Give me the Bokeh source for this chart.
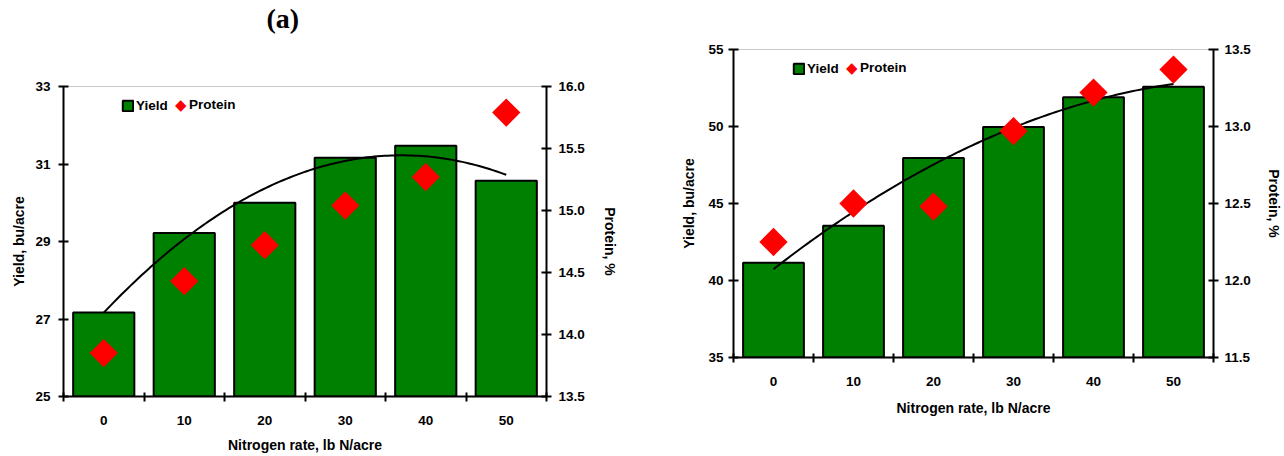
import numpy as np
from bokeh.plotting import figure
from bokeh.layouts import row
from bokeh.models import (Range1d, LinearAxis, FixedTicker, PrintfTickFormatter,
                          Legend, LegendItem, Title)
from bokeh.embed import file_html
from bokeh.resources import INLINE

# ---- data ----
rates = [0, 10, 20, 30, 40, 50]
rate_labels = ["0", "10", "20", "30", "40", "50"]

yield_a = [27.17, 29.22, 30.0, 31.16, 31.47, 30.57]
protein_a = [13.85, 14.43, 14.72, 15.04, 15.27, 15.79]
yield_ticks_a = [25, 27, 29, 31, 33]
protein_ticks_a = [13.5, 14.0, 14.5, 15.0, 15.5, 16.0]

yield_b = [41.15, 43.55, 47.95, 49.97, 51.9, 52.58]
protein_b = [12.25, 12.50, 12.48, 12.97, 13.22, 13.37]
yield_ticks_b = [35, 40, 45, 50, 55]
protein_ticks_b = [11.5, 12.0, 12.5, 13.0, 13.5]

FONT = "Liberation Sans"
GREEN = "#008000"
RED = "#ff0000"


def mk_legend(items, xy, **kw):
    base = dict(location=xy, orientation="horizontal", padding=0, margin=0,
                spacing=0, border_line_color=None, background_fill_alpha=0,
                label_text_font=FONT, label_text_font_style="bold",
                label_text_font_size="13.5px", label_text_color="black")
    base.update(kw)
    return Legend(items=items, **base)


def make_chart(yields, proteins, yticks, pticks, frame, borders,
               ystand, pstand, ylab_stand, plab_stand, xlab_stand, leg):
    fw, fh = frame
    bl, br, bt, bb = borders
    step = rates[1] - rates[0]
    p = figure(frame_width=fw, frame_height=fh, output_backend="svg",
               toolbar_location=None,
               x_range=Range1d(rates[0] - step / 2, rates[-1] + step / 2),
               y_range=Range1d(yticks[0], yticks[-1]),
               min_border_left=bl, min_border_right=br,
               min_border_top=bt, min_border_bottom=bb,
               x_axis_label="Nitrogen rate, lb N/acre",
               y_axis_label="Yield, bu/acre")
    try:
        p.frame_align = False
    except Exception:
        pass
    p.extra_y_ranges = {"protein": Range1d(pticks[0], pticks[-1])}
    p.grid.visible = False
    p.outline_line_color = "#c8c8c8"
    p.outline_line_width = 1
    p.background_fill_color = "white"
    p.border_fill_color = "white"

    bars = p.vbar(x=rates, top=yields, bottom=yticks[0], width=step * 0.76,
                  fill_color=GREEN, line_color="black", line_width=2)

    coef = np.polyfit(rates, yields, 2)
    xs = np.linspace(rates[0], rates[-1], 120)
    p.line(xs, np.polyval(coef, xs), line_color="black", line_width=2)

    pts = p.scatter(x=rates, y=proteins, y_range_name="protein", marker="square",
                    angle=np.pi / 4, size=20, fill_color=RED, line_color=None)

    # x axis
    xa = p.xaxis[0]
    xa.ticker = FixedTicker(ticks=rates,
                            minor_ticks=[r - step / 2 for r in rates] + [rates[-1] + step / 2])
    xa.major_label_overrides = {r: l for r, l in zip(rates, rate_labels)}
    xa.major_tick_in = 0
    xa.major_tick_out = 0
    xa.minor_tick_in = 4
    xa.minor_tick_out = 5
    xa.minor_tick_line_width = 2
    xa.minor_tick_line_color = "black"
    xa.major_label_standoff = 14
    xa.axis_label_standoff = xlab_stand

    # left y axis
    ya = p.yaxis[0]
    ya.ticker = FixedTicker(ticks=yticks)
    ya.major_label_standoff = ystand
    ya.axis_label_standoff = ylab_stand

    # right y axis
    ra = LinearAxis(y_range_name="protein", axis_label="Protein, %",
                    ticker=FixedTicker(ticks=pticks),
                    formatter=PrintfTickFormatter(format="%.1f"))
    ra.major_label_standoff = pstand
    ra.axis_label_standoff = plab_stand
    p.add_layout(ra, "right")

    for ax in [xa, ya, ra]:
        ax.axis_line_width = 2
        ax.axis_line_color = "black"
        ax.major_label_text_font = FONT
        ax.major_label_text_font_style = "bold"
        ax.major_label_text_font_size = "13.5px"
        ax.major_label_text_color = "black"
        ax.axis_label_text_font = FONT
        ax.axis_label_text_font_style = "bold"
        ax.axis_label_text_font_size = "14px"
        ax.axis_label_text_color = "black"
    for ax in [ya, ra]:
        ax.major_tick_in = 5
        ax.major_tick_out = 5
        ax.major_tick_line_width = 2
        ax.major_tick_line_color = "black"
        ax.minor_tick_line_color = None

    (yx, yy), (dx, dy), (px, py) = leg
    # "Yield" legend entry (green box)
    p.add_layout(mk_legend([LegendItem(label="Yield", renderers=[bars])], (yx, yy),
                           glyph_width=13, glyph_height=13, label_height=13,
                           label_standoff=2), "center")
    # red diamond symbol of the "Protein" legend entry
    p.add_layout(mk_legend([LegendItem(label="\u25c6", renderers=[pts])], (dx, dy),
                           glyph_width=1, glyph_height=1, label_height=20,
                           label_standoff=0, label_text_color=RED,
                           label_text_font="DejaVu Sans",
                           label_text_font_style="normal",
                           label_text_font_size="15px"), "center")
    # "Protein" legend label
    p.add_layout(mk_legend([LegendItem(label="Protein", renderers=[pts])], (px, py),
                           glyph_width=1, glyph_height=1, label_height=20,
                           label_standoff=0), "center")
    return p


p1 = make_chart(yield_a, protein_a, yield_ticks_a, protein_ticks_a,
                frame=(483, 310), borders=(63, 94, 86, 56),
                ystand=8, pstand=7, ylab_stand=5, plab_stand=14, xlab_stand=9,
                leg=((58, 283), (111, 281), (125, 282)))
p1.title = Title(text="(a)\n ", align="left", offset=203, standoff=0,
                 vertical_align="top", text_line_height=1.66,
                 text_font="Liberation Serif", text_font_style="bold",
                 text_font_size="28px", text_color="black")

p2 = make_chart(yield_b, protein_b, yield_ticks_b, protein_ticks_b,
                frame=(480, 308), borders=(93, 65, 49, 95),
                ystand=5, pstand=6, ylab_stand=8, plab_stand=12, xlab_stand=11,
                leg=((59, 281), (112, 279), (126, 280)))

layout = row(p1, p2)
open("out.html", "w").write(file_html(layout, INLINE))
